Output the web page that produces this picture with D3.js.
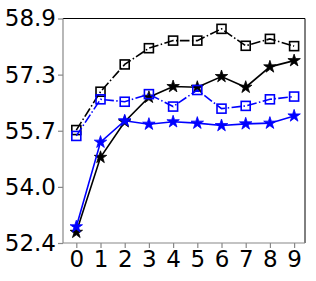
<!DOCTYPE html>
<html>
<head>
<meta charset="utf-8">
<script src="https://d3js.org/d3.v7.min.js"></script>
<style>
  body { margin: 0; background: #fff; }
  text { font-family: "DejaVu Sans", sans-serif; }
</style>
</head>
<body>
<svg width="316" height="281"></svg>
<script>
var steps = [0, 1, 2, 3, 4, 5, 6, 7, 8, 9];

var blackSquare = [55.67, 56.78, 57.57, 58.04, 58.26, 58.26, 58.60, 58.11, 58.31, 58.10];
var blackStar   = [52.71, 54.88, 55.91, 56.62, 56.93, 56.91, 57.22, 56.91, 57.50, 57.68];
var blueSquare  = [55.50, 56.56, 56.49, 56.71, 56.35, 56.83, 56.29, 56.37, 56.56, 56.64];
var blueStar    = [52.87, 55.32, 55.94, 55.84, 55.91, 55.87, 55.80, 55.85, 55.87, 56.08];

var yTicks = [52.4, 54.025, 55.65, 57.275, 58.9];
var yTickLabels = ["52.4", "54.0", "55.7", "57.3", "58.9"];

var svg = d3.select("svg");
var mLeft = 63, mRight = 305, mTop = 18.5, mBottom = 243;

var x = d3.scaleLinear().domain([-0.55, 9.45]).range([mLeft, mRight]);
var y = d3.scaleLinear().domain([52.4, 58.9]).range([mBottom, mTop]);

// axes
var yAxis = svg.append("g")
  .attr("transform", "translate(" + mLeft + ",0)")
  .call(d3.axisLeft(y).tickValues(yTicks).tickSize(5).tickPadding(2)
    .tickFormat(function(d, i) { return yTickLabels[i]; }));
var xAxis = svg.append("g")
  .attr("transform", "translate(0," + mBottom + ")")
  .call(d3.axisBottom(x).tickValues(steps).tickSize(5).tickPadding(3)
    .tickFormat(d3.format("d")));

[yAxis, xAxis].forEach(function(a) {
  a.attr("font-size", 23).attr("font-family", "DejaVu Sans");
  a.select(".domain").remove();
  a.selectAll(".tick line").attr("stroke", "#888").attr("stroke-width", 1.2);
  a.selectAll(".tick text").attr("fill", "#000");
});

// spines
svg.append("line").attr("x1", mLeft).attr("x2", mRight).attr("y1", mTop).attr("y2", mTop)
  .attr("stroke", "#000").attr("stroke-width", 1);
svg.append("line").attr("x1", mRight).attr("x2", mRight).attr("y1", mTop).attr("y2", mBottom)
  .attr("stroke", "#000").attr("stroke-width", 1);
svg.append("line").attr("x1", mLeft).attr("x2", mLeft).attr("y1", mTop).attr("y2", mBottom)
  .attr("stroke", "#888").attr("stroke-width", 1.2);
svg.append("line").attr("x1", mLeft).attr("x2", mRight).attr("y1", mBottom).attr("y2", mBottom)
  .attr("stroke", "#888").attr("stroke-width", 1.2);

var line = d3.line()
  .x(function(d, i) { return x(steps[i]); })
  .y(function(d) { return y(d); });

function drawSeries(vals, color, dashed, marker) {
  svg.append("path")
    .datum(vals)
    .attr("d", line)
    .attr("fill", "none")
    .attr("stroke", color)
    .attr("stroke-width", 1.6)
    .attr("stroke-dasharray", dashed ? "9.6,2.4,1.5,2.4" : null);

  if (marker == "square") {
    svg.selectAll(null)
      .data(vals).enter().append("rect")
      .attr("x", function(d, i) { return x(steps[i]) - 4.5; })
      .attr("y", function(d) { return y(d) - 4.5; })
      .attr("width", 9).attr("height", 9)
      .attr("fill", "none")
      .attr("stroke", color)
      .attr("stroke-width", 1.6);
  } else {
    svg.selectAll(null)
      .data(vals).enter().append("path")
      .attr("d", d3.symbol().type(d3.symbolStar).size(48))
      .attr("transform", function(d, i) { return "translate(" + x(steps[i]) + "," + y(d) + ")"; })
      .attr("fill", color)
      .attr("stroke", color)
      .attr("stroke-width", 0.8);
  }
}

drawSeries(blackSquare, "#000", true, "square");
drawSeries(blackStar, "#000", false, "star");
drawSeries(blueSquare, "#0000ff", true, "square");
drawSeries(blueStar, "#0000ff", false, "star");
</script>
</body>
</html>
